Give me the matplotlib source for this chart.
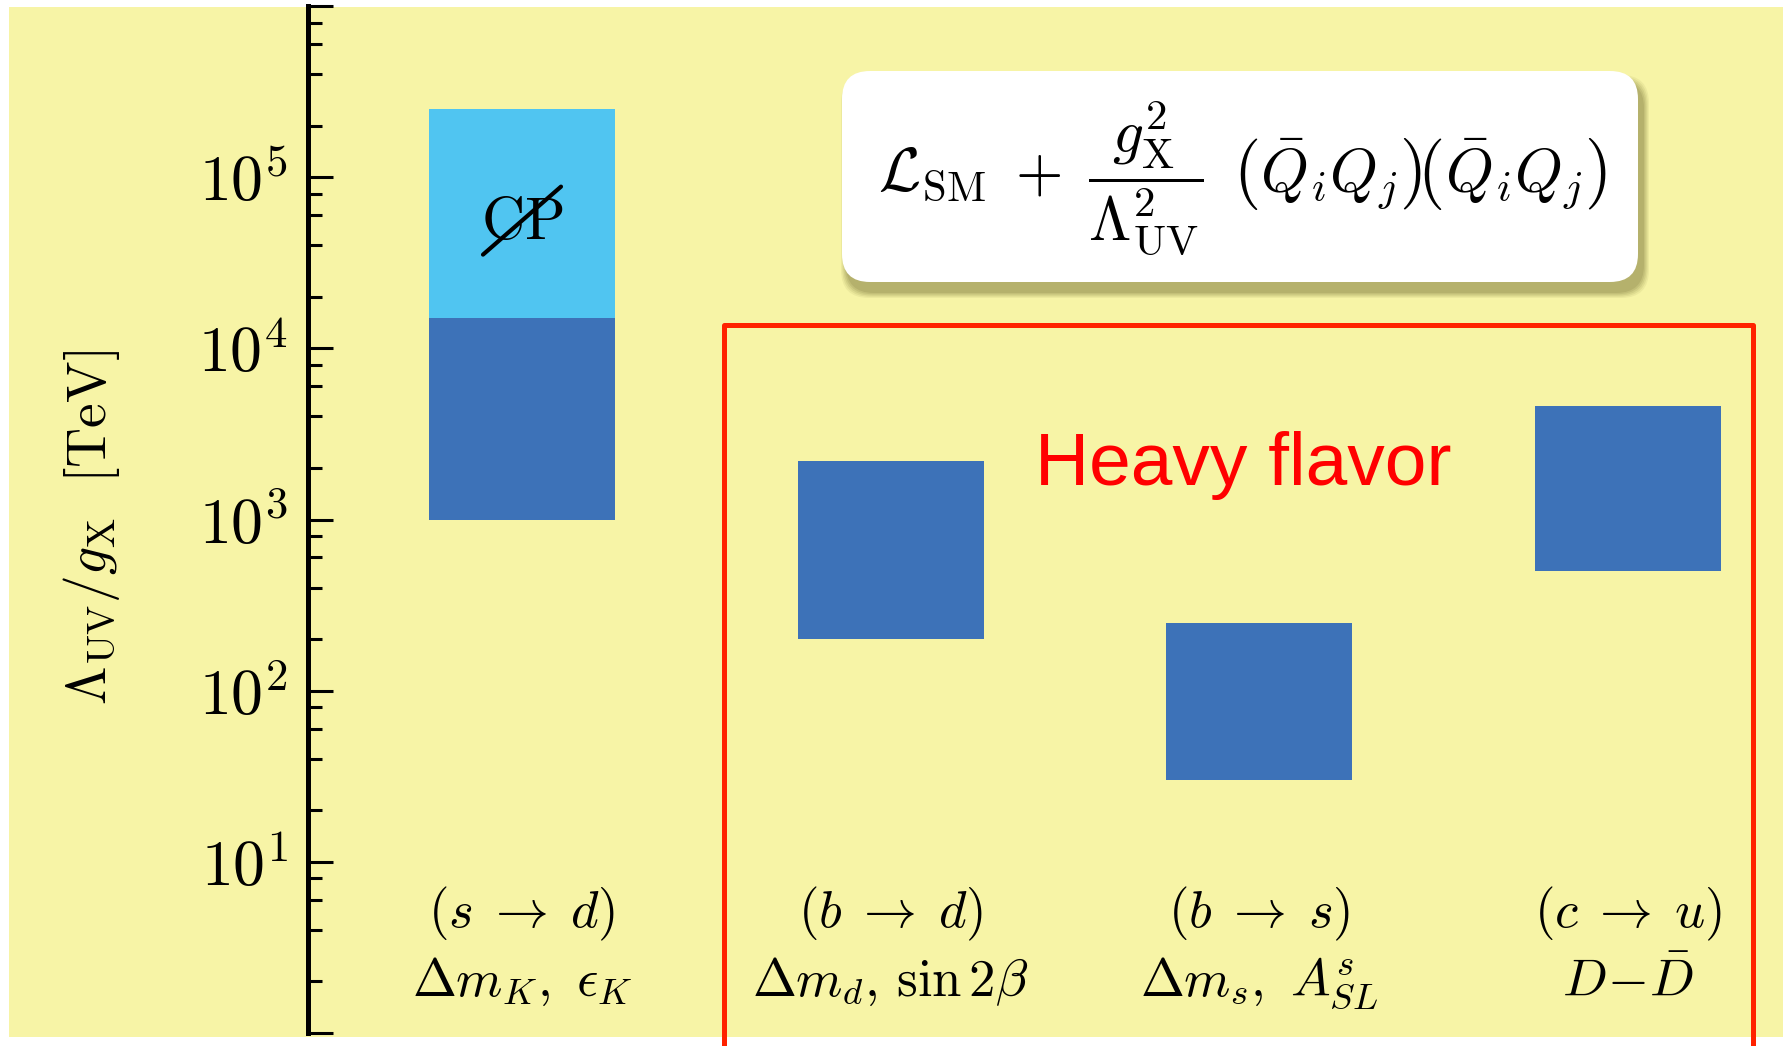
import numpy as np
import matplotlib
matplotlib.use("Agg")
import matplotlib.pyplot as plt
import matplotlib.transforms as mtransforms
from matplotlib.patches import Rectangle, FancyBboxPatch
from matplotlib.lines import Line2D
from matplotlib.ticker import FixedLocator, LogLocator, FuncFormatter

plt.rcParams["mathtext.fontset"] = "cm"
plt.rcParams["font.family"] = ["DejaVu Serif"]

# ---- data -------------------------------------------------------------
transitions = [r"$(s \;\rightarrow\; d)$", r"$(b \;\rightarrow\; d)$",
               r"$(b \;\rightarrow\; s)$", r"$(c \;\rightarrow\; u)$"]
observables = [r"$\Delta m_K,\,\, \epsilon_K$", r"$\Delta m_d,\, \sin 2\beta$",
               r"$\Delta m_s,\,\, A^s_{SL}$", r"$D\!-\!\bar{D}$"]
bound_low = [1.0e3, 2.0e2, 3.0e1, 5.0e2]      # lower edge of each bound [TeV]
bound_high = [1.5e4, 2.2e3, 2.5e2, 4.6e3]     # upper edge of each bound [TeV]
cp_low = [1.5e4]                              # CP-violating extension (kaon)
cp_high = [2.5e5]
ytick_values = [1e0, 1e1, 1e2, 1e3, 1e4, 1e5, 1e6]

# ---- figure geometry --------------------------------------------------
W, H = 1789, 1046
DPI = 100
fig = plt.figure(figsize=(W / DPI, H / DPI), dpi=DPI, facecolor="white")


def fx(px):
    return px / W


def fy(py):
    return 1 - py / H


YELLOW = "#F7F4A6"
DARK = "#3D72B8"
LIGHT = "#50C5F1"
RED = "#FF2200"

# slide background
fig.patches.append(Rectangle((fx(9), fy(1037)), fx(1783) - fx(9), fy(7) - fy(1037),
                             transform=fig.transFigure, facecolor=YELLOW,
                             edgecolor="none", zorder=-10))

ax_left, ax_right = 307.5, 1783
ax_top, ax_bot = 6, 1033
ax = fig.add_axes([fx(ax_left), fy(ax_bot), fx(ax_right) - fx(ax_left), fy(ax_top) - fy(ax_bot)])
ax.set_facecolor("none")

x = np.arange(len(transitions))
unit = 368.7
ax.set_xlim((ax_left - 522) / unit, (ax_right - 522) / unit)
ax.set_yscale("log")
ax.set_ylim(ytick_values[0], ytick_values[-1])

bw = 0.505
ax.bar(x, np.array(bound_high) - np.array(bound_low), bottom=bound_low,
       width=bw, color=DARK, edgecolor="none", zorder=2)
ax.bar(x[:1], np.array(cp_high) - np.array(cp_low), bottom=cp_low,
       width=bw, color=LIGHT, edgecolor="none", zorder=2)

# axes styling: only the left spine, ticks pointing inward
for side in ("top", "right", "bottom"):
    ax.spines[side].set_visible(False)
ax.spines["left"].set_linewidth(3.6)
ax.yaxis.set_major_locator(FixedLocator(ytick_values))
ax.yaxis.set_minor_locator(LogLocator(base=10, subs=[2, 4, 6, 8], numticks=20))


def fmt(v, pos):
    e = int(round(np.log10(v)))
    if e in (0, 6):
        return ""
    return r"$10^{%d}$" % e


ax.yaxis.set_major_formatter(FuncFormatter(fmt))
ax.yaxis.set_minor_formatter(FuncFormatter(lambda v, p: ""))
ax.tick_params(axis="y", which="major", direction="in", length=18, width=2.2,
               labelsize=46, pad=14, colors="black")
ax.tick_params(axis="y", which="minor", direction="in", length=10, width=2.2)
ax.tick_params(axis="x", which="both", bottom=False, labelbottom=False)

ax.set_ylabel(r"$\Lambda_{\rm UV}/g_{\rm X}\ \ [\mathrm{TeV}]$", fontsize=40, va="center")
ax.yaxis.set_label_coords((92 - ax_left) / (ax_right - ax_left), (ax_bot - 527) / (ax_bot - ax_top))

# category labels beneath the bars
blend = mtransforms.blended_transform_factory(ax.transData, ax.transAxes)
for xi, t1, t2 in zip(x, transitions, observables):
    ax.text(xi, (ax_bot - 927) / (ax_bot - ax_top), t1, transform=blend,
            ha="center", va="baseline", fontsize=38)
    ax.text(xi, (ax_bot - 996) / (ax_bot - ax_top), t2, transform=blend,
            ha="center", va="baseline", fontsize=38)

# CP-violation label with a slash across it
cp_y = np.sqrt(cp_low[0] * cp_high[0])
ax.annotate(r"$\mathrm{CP}$", xy=(x[0], cp_y), xytext=(0, -6), textcoords="offset points",
            ha="center", va="center", fontsize=43, zorder=4)
fig.canvas.draw()
cx, cy = ax.transData.transform((x[0], cp_y))
cy -= 8
fig.lines.append(Line2D([cx - 39, cx + 39], [cy - 33, cy + 35],
                        transform=mtransforms.IdentityTransform(),
                        color="black", lw=3.0, solid_capstyle="round", zorder=5))

# heavy-flavour frame and label
fig.patches.append(Rectangle((fx(724), fy(1060)), fx(1753) - fx(724), fy(325) - fy(1060),
                             transform=fig.transFigure, facecolor="none", edgecolor=RED,
                             linewidth=3.6, joinstyle="round", zorder=3, clip_on=False))
fig.text(fx(1243), fy(485), "Heavy flavor", color="red", fontsize=54,
         family="Liberation Sans", ha="center", va="baseline", zorder=6)

# effective-operator box with a soft shadow
bx0, by0, bx1, by1 = 842, 71, 1638, 282
rad = 28
for k, a in enumerate([0.08, 0.10, 0.12, 0.14, 0.16]):
    g = 12 - 2.5 * k
    fig.patches.append(FancyBboxPatch(
        (fx(bx0 + 5 - g / 2), fy(by1 + 10 + g / 2)),
        fx(bx1 - bx0 + g), (by1 - by0 + g) / H,
        boxstyle="round,pad=0,rounding_size=%f" % (rad / W),
        transform=fig.transFigure, facecolor="#6E6A30", edgecolor="none",
        alpha=a, zorder=7, mutation_aspect=W / H))
fig.patches.append(FancyBboxPatch(
    (fx(bx0), fy(by1)), fx(bx1 - bx0), (by1 - by0) / H,
    boxstyle="round,pad=0,rounding_size=%f" % (rad / W),
    transform=fig.transFigure, facecolor="white", edgecolor="none",
    zorder=8, mutation_aspect=W / H))
fig.text(fx(1242), fy(178),
         r"$\mathcal{L}_{\rm SM} \;+\; \dfrac{g_{\rm X}^2}{\Lambda_{\rm UV}^2}\;\,"
         r"\left(\bar{Q}_i Q_j\right)\!\left(\bar{Q}_i Q_j\right)$",
         fontsize=44, ha="center", va="center", zorder=9)

fig.savefig("out.png", dpi=DPI, facecolor="white")
